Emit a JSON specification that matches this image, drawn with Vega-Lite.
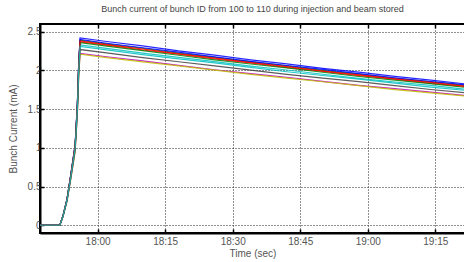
{
  "$schema": "https://vega.github.io/schema/vega-lite/v6.json",
  "width": 425,
  "height": 209,
  "autosize": {"type": "none"},
  "padding": {"left": 40, "top": 24, "right": 0, "bottom": 29},
  "background": "white",
  "title": {
    "text": "Bunch current of bunch ID from 100 to 110 during injection and beam stored",
    "font": "Liberation Sans",
    "fontSize": 9,
    "fontWeight": "normal",
    "color": "#444444",
    "offset": 9,
    "anchor": "middle"
  },
  "config": {
    "view": {"stroke": "black", "strokeWidth": 2},
    "axis": {
      "labelFont": "Liberation Sans",
      "titleFont": "Liberation Sans",
      "labelFontSize": 10,
      "titleFontSize": 10,
      "titleFontWeight": "normal",
      "labelColor": "#555555",
      "titleColor": "#555555",
      "domainColor": "black",
      "domainWidth": 2,
      "tickColor": "black",
      "tickWidth": 1.5,
      "tickSize": -4,
      "gridColor": "#222222",
      "gridOpacity": 1,
      "gridDash": [1, 2],
      "gridWidth": 1
    }
  },
  "data": {
    "values": [
      {"bunch": "100", "t": 47.2, "v": 0}, {"bunch": "100", "t": 51.6, "v": 0}, {"bunch": "100", "t": 52.3, "v": 0.121}, {"bunch": "100", "t": 53.2, "v": 0.339}, {"bunch": "100", "t": 54.1, "v": 0.678}, {"bunch": "100", "t": 55.0, "v": 1.041}, {"bunch": "100", "t": 55.5, "v": 1.573}, {"bunch": "100", "t": 55.8, "v": 2.105}, {"bunch": "100", "t": 56.1, "v": 2.42}, {"bunch": "100", "t": 62, "v": 2.374}, {"bunch": "100", "t": 70, "v": 2.318}, {"bunch": "100", "t": 78, "v": 2.252}, {"bunch": "100", "t": 86, "v": 2.197}, {"bunch": "100", "t": 94, "v": 2.136}, {"bunch": "100", "t": 102, "v": 2.085}, {"bunch": "100", "t": 110, "v": 2.027}, {"bunch": "100", "t": 118, "v": 1.978}, {"bunch": "100", "t": 126, "v": 1.923}, {"bunch": "100", "t": 134, "v": 1.876}, {"bunch": "100", "t": 142, "v": 1.824}, {"bunch": "100", "t": 146, "v": 1.800},
      {"bunch": "101", "t": 47.2, "v": 0}, {"bunch": "101", "t": 51.6, "v": 0}, {"bunch": "101", "t": 52.3, "v": 0.120}, {"bunch": "101", "t": 53.2, "v": 0.335}, {"bunch": "101", "t": 54.1, "v": 0.669}, {"bunch": "101", "t": 55.0, "v": 1.028}, {"bunch": "101", "t": 55.5, "v": 1.554}, {"bunch": "101", "t": 55.8, "v": 2.079}, {"bunch": "101", "t": 56.1, "v": 2.39}, {"bunch": "101", "t": 62, "v": 2.344}, {"bunch": "101", "t": 70, "v": 2.287}, {"bunch": "101", "t": 78, "v": 2.224}, {"bunch": "101", "t": 86, "v": 2.170}, {"bunch": "101", "t": 94, "v": 2.110}, {"bunch": "101", "t": 102, "v": 2.059}, {"bunch": "101", "t": 110, "v": 2.002}, {"bunch": "101", "t": 118, "v": 1.953}, {"bunch": "101", "t": 126, "v": 1.899}, {"bunch": "101", "t": 134, "v": 1.853}, {"bunch": "101", "t": 142, "v": 1.802}, {"bunch": "101", "t": 146, "v": 1.778},
      {"bunch": "102", "t": 47.2, "v": 0}, {"bunch": "102", "t": 51.6, "v": 0}, {"bunch": "102", "t": 52.3, "v": 0.119}, {"bunch": "102", "t": 53.2, "v": 0.332}, {"bunch": "102", "t": 54.1, "v": 0.664}, {"bunch": "102", "t": 55.0, "v": 1.019}, {"bunch": "102", "t": 55.5, "v": 1.541}, {"bunch": "102", "t": 55.8, "v": 2.062}, {"bunch": "102", "t": 56.1, "v": 2.37}, {"bunch": "102", "t": 62, "v": 2.326}, {"bunch": "102", "t": 70, "v": 2.264}, {"bunch": "102", "t": 78, "v": 2.209}, {"bunch": "102", "t": 86, "v": 2.148}, {"bunch": "102", "t": 94, "v": 2.096}, {"bunch": "102", "t": 102, "v": 2.038}, {"bunch": "102", "t": 110, "v": 1.989}, {"bunch": "102", "t": 118, "v": 1.933}, {"bunch": "102", "t": 126, "v": 1.886}, {"bunch": "102", "t": 134, "v": 1.834}, {"bunch": "102", "t": 142, "v": 1.789}, {"bunch": "102", "t": 146, "v": 1.763},
      {"bunch": "103", "t": 47.2, "v": 0}, {"bunch": "103", "t": 51.6, "v": 0}, {"bunch": "103", "t": 52.3, "v": 0.117}, {"bunch": "103", "t": 53.2, "v": 0.326}, {"bunch": "103", "t": 54.1, "v": 0.652}, {"bunch": "103", "t": 55.0, "v": 1.002}, {"bunch": "103", "t": 55.5, "v": 1.515}, {"bunch": "103", "t": 55.8, "v": 2.027}, {"bunch": "103", "t": 56.1, "v": 2.33}, {"bunch": "103", "t": 62, "v": 2.285}, {"bunch": "103", "t": 70, "v": 2.223}, {"bunch": "103", "t": 78, "v": 2.168}, {"bunch": "103", "t": 86, "v": 2.115}, {"bunch": "103", "t": 94, "v": 2.057}, {"bunch": "103", "t": 102, "v": 2.006}, {"bunch": "103", "t": 110, "v": 1.951}, {"bunch": "103", "t": 118, "v": 1.898}, {"bunch": "103", "t": 126, "v": 1.851}, {"bunch": "103", "t": 134, "v": 1.806}, {"bunch": "103", "t": 142, "v": 1.756}, {"bunch": "103", "t": 146, "v": 1.734},
      {"bunch": "104", "t": 47.2, "v": 0}, {"bunch": "104", "t": 51.6, "v": 0}, {"bunch": "104", "t": 52.3, "v": 0.111}, {"bunch": "104", "t": 53.2, "v": 0.311}, {"bunch": "104", "t": 54.1, "v": 0.622}, {"bunch": "104", "t": 55.0, "v": 0.955}, {"bunch": "104", "t": 55.5, "v": 1.443}, {"bunch": "104", "t": 55.8, "v": 1.931}, {"bunch": "104", "t": 56.1, "v": 2.22}, {"bunch": "104", "t": 62, "v": 2.177}, {"bunch": "104", "t": 70, "v": 2.124}, {"bunch": "104", "t": 78, "v": 2.066}, {"bunch": "104", "t": 86, "v": 2.009}, {"bunch": "104", "t": 94, "v": 1.960}, {"bunch": "104", "t": 102, "v": 1.912}, {"bunch": "104", "t": 110, "v": 1.859}, {"bunch": "104", "t": 118, "v": 1.808}, {"bunch": "104", "t": 126, "v": 1.764}, {"bunch": "104", "t": 134, "v": 1.721}, {"bunch": "104", "t": 142, "v": 1.673}, {"bunch": "104", "t": 146, "v": 1.652},
      {"bunch": "105", "t": 47.2, "v": 0}, {"bunch": "105", "t": 51.6, "v": 0}, {"bunch": "105", "t": 52.3, "v": 0.111}, {"bunch": "105", "t": 53.2, "v": 0.309}, {"bunch": "105", "t": 54.1, "v": 0.619}, {"bunch": "105", "t": 55.0, "v": 0.950}, {"bunch": "105", "t": 55.5, "v": 1.437}, {"bunch": "105", "t": 55.8, "v": 1.923}, {"bunch": "105", "t": 56.1, "v": 2.21}, {"bunch": "105", "t": 62, "v": 2.165}, {"bunch": "105", "t": 70, "v": 2.111}, {"bunch": "105", "t": 78, "v": 2.059}, {"bunch": "105", "t": 86, "v": 2.003}, {"bunch": "105", "t": 94, "v": 1.948}, {"bunch": "105", "t": 102, "v": 1.900}, {"bunch": "105", "t": 110, "v": 1.854}, {"bunch": "105", "t": 118, "v": 1.803}, {"bunch": "105", "t": 126, "v": 1.753}, {"bunch": "105", "t": 134, "v": 1.710}, {"bunch": "105", "t": 142, "v": 1.668}, {"bunch": "105", "t": 146, "v": 1.644},
      {"bunch": "106", "t": 47.2, "v": 0}, {"bunch": "106", "t": 51.6, "v": 0}, {"bunch": "106", "t": 52.3, "v": 0.114}, {"bunch": "106", "t": 53.2, "v": 0.318}, {"bunch": "106", "t": 54.1, "v": 0.636}, {"bunch": "106", "t": 55.0, "v": 0.976}, {"bunch": "106", "t": 55.5, "v": 1.476}, {"bunch": "106", "t": 55.8, "v": 1.975}, {"bunch": "106", "t": 56.1, "v": 2.27}, {"bunch": "106", "t": 62, "v": 2.226}, {"bunch": "106", "t": 70, "v": 2.166}, {"bunch": "106", "t": 78, "v": 2.112}, {"bunch": "106", "t": 86, "v": 2.060}, {"bunch": "106", "t": 94, "v": 2.004}, {"bunch": "106", "t": 102, "v": 1.949}, {"bunch": "106", "t": 110, "v": 1.901}, {"bunch": "106", "t": 118, "v": 1.855}, {"bunch": "106", "t": 126, "v": 1.804}, {"bunch": "106", "t": 134, "v": 1.754}, {"bunch": "106", "t": 142, "v": 1.711}, {"bunch": "106", "t": 146, "v": 1.689},
      {"bunch": "107", "t": 47.2, "v": 0}, {"bunch": "107", "t": 51.6, "v": 0}, {"bunch": "107", "t": 52.3, "v": 0.120}, {"bunch": "107", "t": 53.2, "v": 0.336}, {"bunch": "107", "t": 54.1, "v": 0.672}, {"bunch": "107", "t": 55.0, "v": 1.032}, {"bunch": "107", "t": 55.5, "v": 1.560}, {"bunch": "107", "t": 55.8, "v": 2.088}, {"bunch": "107", "t": 56.1, "v": 2.40}, {"bunch": "107", "t": 62, "v": 2.351}, {"bunch": "107", "t": 70, "v": 2.293}, {"bunch": "107", "t": 78, "v": 2.236}, {"bunch": "107", "t": 86, "v": 2.175}, {"bunch": "107", "t": 94, "v": 2.116}, {"bunch": "107", "t": 102, "v": 2.064}, {"bunch": "107", "t": 110, "v": 2.013}, {"bunch": "107", "t": 118, "v": 1.958}, {"bunch": "107", "t": 126, "v": 1.904}, {"bunch": "107", "t": 134, "v": 1.857}, {"bunch": "107", "t": 142, "v": 1.812}, {"bunch": "107", "t": 146, "v": 1.786},
      {"bunch": "108", "t": 47.2, "v": 0}, {"bunch": "108", "t": 51.6, "v": 0}, {"bunch": "108", "t": 52.3, "v": 0.118}, {"bunch": "108", "t": 53.2, "v": 0.330}, {"bunch": "108", "t": 54.1, "v": 0.661}, {"bunch": "108", "t": 55.0, "v": 1.015}, {"bunch": "108", "t": 55.5, "v": 1.534}, {"bunch": "108", "t": 55.8, "v": 2.053}, {"bunch": "108", "t": 56.1, "v": 2.36}, {"bunch": "108", "t": 62, "v": 2.315}, {"bunch": "108", "t": 70, "v": 2.257}, {"bunch": "108", "t": 78, "v": 2.196}, {"bunch": "108", "t": 86, "v": 2.136}, {"bunch": "108", "t": 94, "v": 2.083}, {"bunch": "108", "t": 102, "v": 2.032}, {"bunch": "108", "t": 110, "v": 1.977}, {"bunch": "108", "t": 118, "v": 1.922}, {"bunch": "108", "t": 126, "v": 1.875}, {"bunch": "108", "t": 134, "v": 1.829}, {"bunch": "108", "t": 142, "v": 1.779}, {"bunch": "108", "t": 146, "v": 1.756},
      {"bunch": "109", "t": 47.2, "v": 0}, {"bunch": "109", "t": 51.6, "v": 0}, {"bunch": "109", "t": 52.3, "v": 0.119}, {"bunch": "109", "t": 53.2, "v": 0.333}, {"bunch": "109", "t": 54.1, "v": 0.666}, {"bunch": "109", "t": 55.0, "v": 1.023}, {"bunch": "109", "t": 55.5, "v": 1.547}, {"bunch": "109", "t": 55.8, "v": 2.071}, {"bunch": "109", "t": 56.1, "v": 2.38}, {"bunch": "109", "t": 62, "v": 2.334}, {"bunch": "109", "t": 70, "v": 2.277}, {"bunch": "109", "t": 78, "v": 2.215}, {"bunch": "109", "t": 86, "v": 2.160}, {"bunch": "109", "t": 94, "v": 2.101}, {"bunch": "109", "t": 102, "v": 2.049}, {"bunch": "109", "t": 110, "v": 1.993}, {"bunch": "109", "t": 118, "v": 1.944}, {"bunch": "109", "t": 126, "v": 1.891}, {"bunch": "109", "t": 134, "v": 1.845}, {"bunch": "109", "t": 142, "v": 1.794}, {"bunch": "109", "t": 146, "v": 1.771},
      {"bunch": "110", "t": 47.2, "v": 0}, {"bunch": "110", "t": 51.6, "v": 0}, {"bunch": "110", "t": 52.3, "v": 0.116}, {"bunch": "110", "t": 53.2, "v": 0.323}, {"bunch": "110", "t": 54.1, "v": 0.647}, {"bunch": "110", "t": 55.0, "v": 0.993}, {"bunch": "110", "t": 55.5, "v": 1.502}, {"bunch": "110", "t": 55.8, "v": 2.010}, {"bunch": "110", "t": 56.1, "v": 2.31}, {"bunch": "110", "t": 62, "v": 2.266}, {"bunch": "110", "t": 70, "v": 2.204}, {"bunch": "110", "t": 78, "v": 2.149}, {"bunch": "110", "t": 86, "v": 2.097}, {"bunch": "110", "t": 94, "v": 2.039}, {"bunch": "110", "t": 102, "v": 1.983}, {"bunch": "110", "t": 110, "v": 1.935}, {"bunch": "110", "t": 118, "v": 1.887}, {"bunch": "110", "t": 126, "v": 1.836}, {"bunch": "110", "t": 134, "v": 1.785}, {"bunch": "110", "t": 142, "v": 1.741}, {"bunch": "110", "t": 146, "v": 1.719}
    ]
  },
  "layer": [
    {
      "mark": {"type": "line", "strokeWidth": 1.2, "clip": true, "opacity": 0.85},
      "encoding": {
        "x": {
          "field": "t",
          "type": "quantitative",
          "scale": {"domain": [47.2, 141.6], "nice": false, "zero": false},
          "axis": {
            "title": "Time (sec)",
            "values": [60, 75, 90, 105, 120, 135],
            "labelExpr": "(17 + floor(datum.value / 60)) + ':' + (datum.value % 60 < 10 ? '0' : '') + (datum.value % 60)",
            "labelPadding": 7,
            "titlePadding": 2
          }
        },
        "y": {
          "field": "v",
          "type": "quantitative",
          "scale": {"domain": [-0.1, 2.6], "nice": false},
          "axis": {
            "title": "Bunch Current (mA)",
            "values": [0, 0.5, 1, 1.5, 2, 2.5],
            "format": "~g",
            "labelPadding": 3,
            "titlePadding": 9
          }
        },
        "color": {
          "field": "bunch",
          "type": "nominal",
          "scale": {
            "domain": ["100", "101", "102", "103", "104", "105", "106", "107", "108", "109", "110"],
            "range": ["#0000ff", "#008000", "#ff0000", "#00bfbf", "#bf00bf", "#bfbf00", "#404040", "#0000ff", "#008000", "#ff0000", "#00bfbf"]
          },
          "legend": null
        },
        "order": {"field": "t", "type": "quantitative"}
      }
    },
    {
      "mark": {"type": "point", "opacity": 0},
      "encoding": {
        "x": {
          "field": "t",
          "type": "quantitative",
          "scale": {"domain": [47.2, 141.6], "nice": false, "zero": false},
          "axis": {
            "orient": "top",
            "title": null,
            "values": [60, 75, 90, 105, 120, 135],
            "labels": false,
            "grid": false,
            "domain": false
          }
        },
        "y": {
          "field": "v",
          "type": "quantitative"
        }
      }
    }
  ],
  "resolve": {"axis": {"x": "independent"}}
}
